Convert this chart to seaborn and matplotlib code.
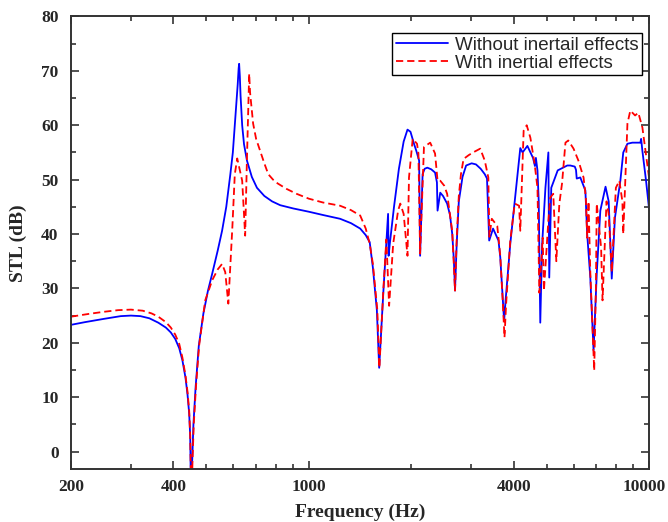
import matplotlib
matplotlib.use("Agg")
import pandas as pd
import matplotlib.pyplot as plt
import seaborn as sns
from matplotlib.ticker import FixedLocator, LogLocator, NullFormatter, MultipleLocator
from matplotlib.transforms import ScaledTranslation

# ---------------------------------------------------------------
# Data (frequency in Hz, STL in dB)
# ---------------------------------------------------------------
freq_blue = [200, 220, 250, 280, 300, 320, 340, 361, 380, 393, 405, 416, 425,
             434, 440, 445, 448, 451, 454, 458, 465, 475, 490, 505, 520, 540,
             556, 572, 588, 598, 606, 613, 618, 622, 624, 627, 630, 637, 645,
             658, 680, 704, 740, 780, 824, 900, 1000, 1100, 1236, 1330, 1416,
             1470, 1510, 1543, 1585, 1610, 1657, 1700, 1710, 1716, 1730, 1780,
             1840, 1900, 1950, 1990, 2040, 2070, 2110, 2124, 2160, 2190, 2230,
             2290, 2350, 2380, 2390, 2434, 2480, 2550, 2600, 2640, 2670, 2690,
             2720, 2760, 2830, 2900, 3010, 3100, 3200, 3290, 3340, 3390, 3480,
             3610, 3654, 3720, 3750, 3790, 3910, 4030, 4184, 4250, 4390, 4560,
             4620, 4650, 4700, 4740, 4790, 4850, 4960, 5060, 5090, 5160, 5390,
             5750, 5870, 6050, 6100, 6130, 6280, 6500, 6580, 6720, 6870, 7020,
             7192, 7450, 7610, 7770, 7940, 8236, 8400, 8640, 8930, 9430, 9480,
             9560, 9800, 10000]
stl_blue = [23.3, 23.8, 24.4, 24.9, 25.0, 24.9, 24.5, 23.7, 22.8, 21.9, 20.7, 19.0, 16.8,
            13.6, 10.5, 7.0, 3.0, -10.0, -2.0, 5.0, 12.0, 19.5, 25.4, 29.5, 32.7, 37.0,
            40.6, 45.0, 51.0, 55.0, 60.0, 64.5, 67.5, 70.5, 71.3, 69.0, 65.5, 60.0, 56.5,
            53.5, 50.5, 48.5, 47.0, 46.0, 45.3, 44.7, 44.1, 43.5, 42.8, 42.0, 41.0,
            39.8, 38.5, 33.8, 26.0, 15.4, 29.6, 41.0, 43.7, 36.0, 38.2, 45.0,
            52.0, 57.0, 59.2, 58.8, 56.5, 55.3, 53.5, 36.0, 51.0, 52.0, 52.2,
            51.9, 51.3, 49.5, 44.3, 47.6, 47.0, 45.6, 43.5, 40.0, 35.0, 29.6,
            38.0, 46.0, 50.5, 52.6, 53.0, 52.8, 52.0, 51.0, 50.2, 38.8, 41.0,
            38.8, 35.7, 27.8, 24.0, 28.0, 38.2, 46.0, 55.8, 55.0, 56.2, 54.0,
            52.5, 54.0, 51.7, 46.0, 23.7, 38.0, 48.5, 55.0, 32.0, 48.5, 51.7,
            52.6, 52.6, 52.4, 51.8, 50.2, 50.4, 48.0, 40.0, 32.0, 18.6, 32.7,
            44.3, 48.7, 46.0, 31.8, 43.0, 49.8, 55.0, 56.6, 56.8, 56.8, 57.5,
            55.3, 49.8, 44.7]

freq_red = [200, 225, 250, 275, 300, 325, 345, 361, 380, 393, 405, 416, 425,
            434, 440, 445, 448, 452, 455, 459, 466, 476, 496, 520, 540, 556, 568,
            580, 596, 606, 616, 637, 645, 650, 658, 668, 672, 686, 700, 719, 740,
            760, 785, 810, 860, 920, 1000, 1100, 1236, 1330, 1416, 1470, 1510,
            1543, 1590, 1612, 1657, 1690, 1722, 1770, 1830, 1857, 1900, 1950,
            1970, 2020, 2080, 2100, 2124, 2180, 2274, 2350, 2390, 2434, 2500,
            2550, 2640, 2690, 2720, 2760, 2800, 2850, 2950, 3040, 3190, 3290,
            3370, 3395, 3450, 3580, 3654, 3720, 3760, 3800, 3910, 4030, 4150,
            4184, 4280, 4370, 4480, 4610, 4700, 4760, 4870, 4910, 5060, 5126,
            5230, 5340, 5450, 5550, 5680, 5790, 6000, 6200, 6420, 6520, 6580,
            6640, 6720, 6900, 6980, 7020, 7230, 7300, 7500, 7610, 7770, 7990,
            8180, 8350, 8400, 8640, 8810, 9100, 9300, 9560, 10000]
stl_red = [24.8, 25.3, 25.7, 26.0, 26.1, 25.9, 25.4, 24.8, 23.8, 22.8, 21.5, 19.8, 17.3,
           14.0, 11.0, 7.5, 3.0, -10.0, -2.0, 5.0, 12.0, 19.5, 27.8, 31.5, 33.5, 34.5, 33.0,
           27.2, 41.2, 51.0, 53.9, 49.8, 43.7, 39.7, 54.0, 69.5, 66.0, 60.3, 57.5, 55.3, 53.0,
           51.0, 50.0, 49.3, 48.3, 47.4, 46.5, 45.8, 45.2, 44.4, 43.4, 41.0, 38.2,
           34.5, 26.0, 15.4, 30.0, 39.0, 26.8, 38.2, 44.3, 45.6, 43.7, 36.0,
           50.4, 57.5, 56.6, 54.8, 36.4, 56.0, 56.8, 54.8, 49.8, 49.8, 48.9,
           47.4, 40.5, 29.6, 39.0, 47.0, 51.0, 53.8, 54.5, 55.0, 55.7, 53.5,
           50.4, 39.5, 42.8, 41.5, 36.0, 27.0, 21.0, 27.0, 38.8, 45.6, 45.2,
           40.6, 59.0, 60.0, 57.7, 52.9, 48.5, 29.2, 39.3, 29.6, 42.5, 46.7,
           47.4, 35.0, 45.6, 49.3, 56.8, 57.2, 55.7, 53.5, 50.4, 46.7, 39.3,
           46.0, 33.0, 14.9, 30.0, 45.6, 37.5, 27.8, 46.0, 43.7, 33.0, 48.5,
           49.8, 46.0, 40.0, 60.3, 62.7, 61.8, 62.3, 59.6, 50.4]

x_ticks = [200, 400, 1000, 4000, 10000]
x_tick_labels = ["200", "400", "1000", "4000", "10000"]
y_ticks = [0, 10, 20, 30, 40, 50, 60, 70, 80]

label_blue = "Without inertail effects"
label_red = "With inertial effects"

# ---------------------------------------------------------------
# Plot
# ---------------------------------------------------------------
sns.set_style("ticks")
plt.rcParams["font.family"] = ["Liberation Serif", "DejaVu Serif"]

fig = plt.figure(figsize=(6.68, 5.22), dpi=100)
ax = fig.add_axes([0.1063, 0.1006, 0.8653, 0.8678])

df_blue = pd.DataFrame({"Frequency (Hz)": freq_blue, "STL (dB)": stl_blue})
df_red = pd.DataFrame({"Frequency (Hz)": freq_red, "STL (dB)": stl_red})

sns.lineplot(data=df_blue, x="Frequency (Hz)", y="STL (dB)", ax=ax,
             color="#0000ff", linewidth=1.3, estimator=None, sort=False,
             label=label_blue)
sns.lineplot(data=df_red, x="Frequency (Hz)", y="STL (dB)", ax=ax,
             color="#ff0000", linewidth=1.3, estimator=None, sort=False,
             linestyle=(0, (4, 2.2)), label=label_red)

ax.set_xscale("log")
ax.set_xlim(200, 10000)
ax.set_ylim(-3.3, 80)

ax.xaxis.set_major_locator(FixedLocator(x_ticks))
ax.set_xticklabels(x_tick_labels)
ax.xaxis.set_minor_locator(LogLocator(base=10, subs=range(2, 10)))
ax.xaxis.set_minor_formatter(NullFormatter())
ax.yaxis.set_major_locator(FixedLocator(y_ticks))
ax.yaxis.set_minor_locator(MultipleLocator(5))

ax.tick_params(which="both", direction="in", top=True, right=True,
               width=1.2, color="#333333")
ax.tick_params(which="major", length=6)
ax.tick_params(which="minor", length=3.5)
ax.tick_params(axis="y", which="major", pad=9, labelsize=12.5)
ax.tick_params(axis="x", which="major", pad=7, labelsize=12.5)
for lbl in ax.get_xticklabels() + ax.get_yticklabels():
    lbl.set_fontweight("bold")

# keep "10000" inside the figure edge
last = ax.get_xticklabels()[-1]
last.set_transform(last.get_transform() + ScaledTranslation(-5 / 100, 0, fig.dpi_scale_trans))

for sp in ax.spines.values():
    sp.set_linewidth(1.4)
    sp.set_color("#333333")
    sp.set_visible(True)

ax.set_xlabel("Frequency (Hz)", fontsize=14, fontweight="bold", labelpad=6)
ax.set_ylabel("STL (dB)", fontsize=14, fontweight="bold", labelpad=10)

leg = ax.legend(loc="upper right", bbox_to_anchor=(0.988, 0.964),
                borderaxespad=0, frameon=True, fancybox=False,
                edgecolor="black", framealpha=1, handlelength=2.8,
                borderpad=0.2, labelspacing=0.05, handletextpad=0.35,
                prop={"family": ["Liberation Sans", "DejaVu Sans"], "size": 13.5})
leg.get_frame().set_linewidth(1.0)

fig.savefig("out.png", dpi=100)
